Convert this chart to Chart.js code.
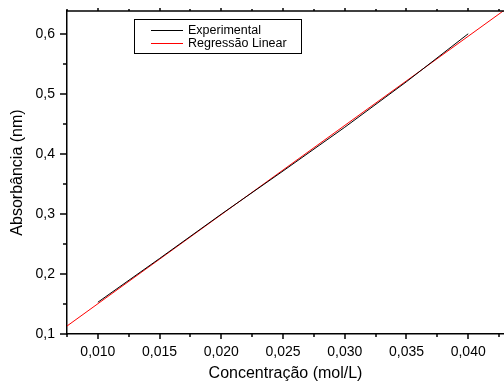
<!DOCTYPE html>
<html>
<head>
<meta charset="utf-8">
<script src="https://cdn.jsdelivr.net/npm/chart.js@4/dist/chart.umd.min.js"></script>
<style>
  body { margin: 0; background: #fff; }
  #wrap { width: 504px; height: 383px; position: relative; }
</style>
</head>
<body>
<div id="wrap"><canvas id="chart"></canvas></div>
<script>
// data
const concentracao = [0.010, 0.015, 0.020, 0.025, 0.030, 0.035, 0.040]
const absorbancia = [0.153, 0.226, 0.300, 0.372, 0.445, 0.521, 0.601]

// regression line endpoints (spans the full x range)
const regX = [0.0075, 0.0429]
const regY = [0.1133, 0.6400]

// axis ticks
const xTicks = [0.010, 0.015, 0.020, 0.025, 0.030, 0.035, 0.040]
const xMinor = [0.0075, 0.0125, 0.0175, 0.0225, 0.0275, 0.0325, 0.0375, 0.0425]
const yTicks = [0.1, 0.2, 0.3, 0.4, 0.5, 0.6]
const yMinor = [0.15, 0.25, 0.35, 0.45, 0.55]

const font = 'Arial, "Liberation Sans", Helvetica, sans-serif'

// draws tick marks + the top frame line + legend box
const framePlugin = {
    id: 'frame',
    afterDraw(chart) {
        const ctx = chart.ctx
        const area = chart.chartArea
        const x = chart.scales.x
        const y = chart.scales.y
        ctx.save()
        ctx.strokeStyle = '#000'
        ctx.lineWidth = 1.5

        // top line
        ctx.beginPath()
        ctx.moveTo(area.left, area.top)
        ctx.lineTo(area.right, area.top)
        ctx.stroke()

        const tick = (x1, y1, x2, y2) => {
            ctx.beginPath()
            ctx.moveTo(x1, y1)
            ctx.lineTo(x2, y2)
            ctx.stroke()
        }
        xTicks.forEach(v => {
            const px = Math.round(x.getPixelForValue(v))
            tick(px, area.bottom, px, area.bottom + 5)
            tick(px, area.top, px, area.top - 3)
        })
        xMinor.forEach(v => {
            const px = Math.round(x.getPixelForValue(v))
            tick(px, area.bottom, px, area.bottom + 3)
            tick(px, area.top, px, area.top - 2)
        })
        yTicks.forEach(v => {
            const py = Math.round(y.getPixelForValue(v))
            tick(area.left, py, area.left - 7, py)
        })
        yMinor.forEach(v => {
            const py = Math.round(y.getPixelForValue(v))
            tick(area.left, py, area.left - 4, py)
        })

        // legend
        ctx.lineWidth = 1
        ctx.strokeRect(134.5, 19.5, 167, 34)
        ctx.font = '12.5px ' + font
        ctx.textBaseline = 'middle'
        chart.data.datasets.forEach((ds, i) => {
            const ly = 30 + i * 13
            ctx.strokeStyle = ds.borderColor
            ctx.beginPath()
            ctx.moveTo(151, ly + 0.5)
            ctx.lineTo(183, ly + 0.5)
            ctx.stroke()
            ctx.fillStyle = '#000'
            ctx.fillText(ds.label, 188, ly + 1)
        })
        ctx.restore()
    }
}

new Chart(document.getElementById('chart'), {
    type: 'line',
    data: {
        datasets: [
            {
                label: 'Experimental',
                data: concentracao.map((c, i) => ({ x: c, y: absorbancia[i] })),
                borderColor: '#000000',
                borderWidth: 1,
                pointRadius: 0,
                tension: 0
            },
            {
                label: 'Regressão Linear',
                data: regX.map((c, i) => ({ x: c, y: regY[i] })),
                borderColor: '#ff0000',
                borderWidth: 1,
                pointRadius: 0,
                tension: 0
            }
        ]
    },
    options: {
        responsive: true,
        maintainAspectRatio: false,
        animation: false,
        layout: { padding: { top: 11, right: 0, left: 0, bottom: 0 } },
        plugins: {
            legend: { display: false },
            tooltip: { enabled: false }
        },
        scales: {
            x: {
                type: 'linear',
                min: 0.0075,
                max: 0.0429,
                afterBuildTicks: (s) => { s.ticks = xTicks.map(v => ({ value: v })) },
                afterFit: (s) => { s.height = 49; s.paddingLeft = 0; s.paddingRight = 0 },
                grid: { display: false, drawTicks: false },
                border: { display: true, color: '#000', width: 1.5 },
                ticks: {
                    color: '#000',
                    padding: 10,
                    maxRotation: 0,
                    font: { family: font, size: 14 },
                    callback: (v) => v.toFixed(3).replace('.', ',')
                },
                title: {
                    display: true,
                    text: 'Concentração (mol/L)',
                    color: '#000',
                    font: { family: font, size: 16 },
                    padding: { top: 0, bottom: 0 }
                }
            },
            y: {
                type: 'linear',
                min: 0.1,
                max: 0.639,
                afterBuildTicks: (s) => { s.ticks = yTicks.map(v => ({ value: v })) },
                afterFit: (s) => { s.width = 67; s.paddingTop = 0; s.paddingBottom = 0 },
                grid: { display: false, drawTicks: false },
                border: { display: true, color: '#000', width: 1.5 },
                ticks: {
                    color: '#000',
                    padding: 12,
                    font: { family: font, size: 14 },
                    callback: (v) => v.toFixed(1).replace('.', ',')
                },
                title: {
                    display: true,
                    text: 'Absorbância (nm)',
                    color: '#000',
                    font: { family: font, size: 16 },
                    padding: { top: 8, bottom: 0 }
                }
            }
        }
    },
    plugins: [framePlugin]
})
</script>
</body>
</html>
